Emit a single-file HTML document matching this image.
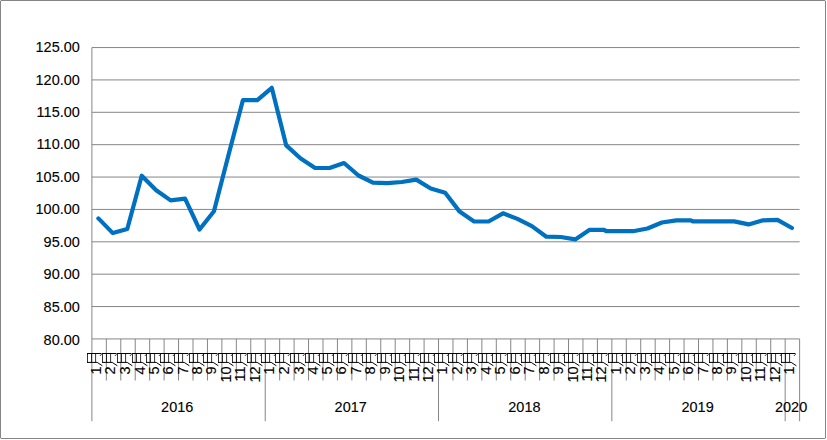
<!DOCTYPE html>
<html><head><meta charset="utf-8"><title>chart</title>
<style>
html,body{margin:0;padding:0;background:#fff;}
body{width:827px;height:440px;overflow:hidden;font-family:"Liberation Sans",sans-serif;}
svg{display:block;}
text{font-family:"Liberation Sans",sans-serif;fill:#000;stroke:#000;stroke-width:0.12px;}
</style></head><body>
<svg width="827" height="440" viewBox="0 0 827 440">
<rect x="0" y="0" width="827" height="440" fill="#fff"/>
<path d="M0.8 0.5H825.2M0.5 0.8V438.2M825.5 0.8V438.2M0.8 438.5H825.2" fill="none" stroke="#858585" stroke-width="1"/>
<path d="M91.90 47.55H799.61M91.90 79.92H799.61M91.90 112.30H799.61M91.90 144.68H799.61M91.90 177.05H799.61M91.90 209.43H799.61M91.90 241.80H799.61M91.90 274.18H799.61M91.90 306.55H799.61M91.90 338.93H799.61M91.90 47.55V338.93M91.90 338.93V421.20M106.34 338.93V380.50M120.79 338.93V380.50M135.23 338.93V380.50M149.67 338.93V380.50M164.12 338.93V380.50M178.56 338.93V380.50M193.00 338.93V380.50M207.44 338.93V380.50M221.89 338.93V380.50M236.33 338.93V380.50M250.77 338.93V380.50M265.22 338.93V421.20M279.66 338.93V380.50M294.10 338.93V380.50M308.54 338.93V380.50M322.99 338.93V380.50M337.43 338.93V380.50M351.87 338.93V380.50M366.32 338.93V380.50M380.76 338.93V380.50M395.20 338.93V380.50M409.65 338.93V380.50M424.09 338.93V380.50M438.53 338.93V421.20M452.98 338.93V380.50M467.42 338.93V380.50M481.86 338.93V380.50M496.30 338.93V380.50M510.75 338.93V380.50M525.19 338.93V380.50M539.63 338.93V380.50M554.08 338.93V380.50M568.52 338.93V380.50M582.96 338.93V380.50M597.40 338.93V380.50M611.85 338.93V421.20M626.29 338.93V380.50M640.73 338.93V380.50M655.18 338.93V380.50M669.62 338.93V380.50M684.06 338.93V380.50M698.51 338.93V380.50M712.95 338.93V380.50M727.39 338.93V380.50M741.83 338.93V380.50M756.28 338.93V380.50M770.72 338.93V380.50M785.16 338.93V421.20M799.61 338.93V421.20" fill="none" stroke="#868686" stroke-width="1"/>
<text transform="translate(79.80 52.40) scale(0.940 1)" font-size="15.40" text-anchor="end">125.00</text>
<text transform="translate(79.80 85.00) scale(0.940 1)" font-size="15.40" text-anchor="end">120.00</text>
<text transform="translate(79.80 116.75) scale(0.940 1)" font-size="15.40" text-anchor="end">115.00</text>
<text transform="translate(79.80 148.90) scale(0.940 1)" font-size="15.40" text-anchor="end">110.00</text>
<text transform="translate(79.80 181.50) scale(0.940 1)" font-size="15.40" text-anchor="end">105.00</text>
<text transform="translate(79.80 213.90) scale(0.940 1)" font-size="15.40" text-anchor="end">100.00</text>
<text transform="translate(79.80 247.00) scale(0.940 1)" font-size="15.40" text-anchor="end">95.00</text>
<text transform="translate(79.80 278.90) scale(0.940 1)" font-size="15.40" text-anchor="end">90.00</text>
<text transform="translate(79.80 311.75) scale(0.940 1)" font-size="15.40" text-anchor="end">85.00</text>
<text transform="translate(79.80 344.90) scale(0.940 1)" font-size="15.40" text-anchor="end">80.00</text>
<path d="M98.38 218.40 L112.83 233.10 L127.28 229.00 L141.72 175.70 L156.18 190.20 L170.62 200.40 L185.07 198.70 L199.53 229.50 L213.97 211.30 L228.43 155.20 L242.88 100.20 L257.32 100.20 L271.77 87.80 L286.23 145.40 L300.67 158.50 L315.12 168.00 L329.57 168.00 L344.02 163.00 L358.48 175.50 L372.92 182.60 L387.38 183.20 L401.83 182.00 L416.27 179.60 L430.73 188.50 L445.17 192.80 L459.62 211.60 L474.07 221.50 L488.52 221.50 L502.98 213.30 L517.42 218.90 L531.88 226.10 L546.32 236.70 L560.77 237.00 L575.23 239.40 L589.67 229.80 L604.12 229.90 L606.12 231.10 L618.57 231.10 L633.02 231.20 L647.47 228.50 L661.92 222.50 L676.38 220.30 L690.82 220.30 L692.82 221.40 L705.27 221.40 L719.72 221.30 L734.17 221.40 L748.62 224.40 L763.07 220.30 L777.52 219.80 L791.97 228.00" fill="none" stroke="#0070c0" stroke-width="4.2" stroke-linejoin="round" stroke-linecap="round"/>
<path d="M87.00 353.5H101.50M87.00 362.4H97.20L102.40 365.8M101.50 354.3L100.00 355.8M102.00 353.5H116.50M102.00 362.4H112.20L117.40 365.8M116.50 354.3L115.00 355.8M117.00 353.5H131.50M117.00 362.4H127.20L132.40 365.8M131.50 354.3L130.00 355.8M132.00 353.5H146.50M132.00 362.4H142.20L147.40 365.8M146.50 354.3L145.00 355.8M146.00 353.5H160.50M146.00 362.4H156.20L161.40 365.8M160.50 354.3L159.00 355.8M160.00 353.5H174.50M160.00 362.4H170.20L175.40 365.8M174.50 354.3L173.00 355.8M174.00 353.5H188.50M174.00 362.4H184.20L189.40 365.8M188.50 354.3L187.00 355.8M189.00 353.5H203.50M189.00 362.4H199.20L204.40 365.8M203.50 354.3L202.00 355.8M203.00 353.5H217.50M203.00 362.4H213.20L218.40 365.8M217.50 354.3L216.00 355.8M218.00 353.5H232.50M218.00 362.4H228.20L233.40 365.8M232.50 354.3L231.00 355.8M232.00 353.5H246.50M232.00 362.4H242.20L247.40 365.8M246.50 354.3L245.00 355.8M247.00 353.5H261.50M247.00 362.4H257.20L262.40 365.8M261.50 354.3L260.00 355.8M261.00 353.5H275.50M261.00 362.4H271.20L276.40 365.8M275.50 354.3L274.00 355.8M275.00 353.5H289.50M275.00 362.4H285.20L290.40 365.8M289.50 354.3L288.00 355.8M290.00 353.5H304.50M290.00 362.4H300.20L305.40 365.8M304.50 354.3L303.00 355.8M305.00 353.5H319.50M305.00 362.4H315.20L320.40 365.8M319.50 354.3L318.00 355.8M319.00 353.5H333.50M319.00 362.4H329.20L334.40 365.8M333.50 354.3L332.00 355.8M333.00 353.5H347.50M333.00 362.4H343.20L348.40 365.8M347.50 354.3L346.00 355.8M348.00 353.5H362.50M348.00 362.4H358.20L363.40 365.8M362.50 354.3L361.00 355.8M362.00 353.5H376.50M362.00 362.4H372.20L377.40 365.8M376.50 354.3L375.00 355.8M377.00 353.5H391.50M377.00 362.4H387.20L392.40 365.8M391.50 354.3L390.00 355.8M391.00 353.5H405.50M391.00 362.4H401.20L406.40 365.8M405.50 354.3L404.00 355.8M405.00 353.5H419.50M405.00 362.4H415.20L420.40 365.8M419.50 354.3L418.00 355.8M420.00 353.5H434.50M420.00 362.4H430.20L435.40 365.8M434.50 354.3L433.00 355.8M434.00 353.5H448.50M434.00 362.4H444.20L449.40 365.8M448.50 354.3L447.00 355.8M448.00 353.5H462.50M448.00 362.4H458.20L463.40 365.8M462.50 354.3L461.00 355.8M463.00 353.5H477.50M463.00 362.4H473.20L478.40 365.8M477.50 354.3L476.00 355.8M478.00 353.5H492.50M478.00 362.4H488.20L493.40 365.8M492.50 354.3L491.00 355.8M492.00 353.5H506.50M492.00 362.4H502.20L507.40 365.8M506.50 354.3L505.00 355.8M507.00 353.5H521.50M507.00 362.4H517.20L522.40 365.8M521.50 354.3L520.00 355.8M521.00 353.5H535.50M521.00 362.4H531.20L536.40 365.8M535.50 354.3L534.00 355.8M535.00 353.5H549.50M535.00 362.4H545.20L550.40 365.8M549.50 354.3L548.00 355.8M550.00 353.5H564.50M550.00 362.4H560.20L565.40 365.8M564.50 354.3L563.00 355.8M564.00 353.5H578.50M564.00 362.4H574.20L579.40 365.8M578.50 354.3L577.00 355.8M579.00 353.5H593.50M579.00 362.4H589.20L594.40 365.8M593.50 354.3L592.00 355.8M593.00 353.5H607.50M593.00 362.4H603.20L608.40 365.8M607.50 354.3L606.00 355.8M608.00 353.5H622.50M608.00 362.4H618.20L623.40 365.8M622.50 354.3L621.00 355.8M622.00 353.5H636.50M622.00 362.4H632.20L637.40 365.8M636.50 354.3L635.00 355.8M637.00 353.5H651.50M637.00 362.4H647.20L652.40 365.8M651.50 354.3L650.00 355.8M651.00 353.5H665.50M651.00 362.4H661.20L666.40 365.8M665.50 354.3L664.00 355.8M665.00 353.5H679.50M665.00 362.4H675.20L680.40 365.8M679.50 354.3L678.00 355.8M680.00 353.5H694.50M680.00 362.4H690.20L695.40 365.8M694.50 354.3L693.00 355.8M694.00 353.5H708.50M694.00 362.4H704.20L709.40 365.8M708.50 354.3L707.00 355.8M709.00 353.5H723.50M709.00 362.4H719.20L724.40 365.8M723.50 354.3L722.00 355.8M723.00 353.5H737.50M723.00 362.4H733.20L738.40 365.8M737.50 354.3L736.00 355.8M738.00 353.5H752.50M738.00 362.4H748.20L753.40 365.8M752.50 354.3L751.00 355.8M752.00 353.5H766.50M752.00 362.4H762.20L767.40 365.8M766.50 354.3L765.00 355.8M767.00 353.5H781.50M767.00 362.4H777.20L782.40 365.8M781.50 354.3L780.00 355.8M781.00 353.5H795.50M781.00 362.4H791.20L796.40 365.8M795.50 354.3L794.00 355.8" fill="none" stroke="#000" stroke-width="1"/>
<path d="M87.50 353.0V362.9M91.50 353.5V362.4M95.60 353.5V362.4M102.50 353.0V362.9M106.50 353.5V362.4M110.60 353.5V362.4M117.50 353.0V362.9M121.50 353.5V362.4M125.60 353.5V362.4M132.50 353.0V362.9M136.50 353.5V362.4M140.60 353.5V362.4M146.50 353.0V362.9M150.50 353.5V362.4M154.60 353.5V362.4M160.50 353.0V362.9M164.50 353.5V362.4M168.60 353.5V362.4M174.50 353.0V362.9M178.50 353.5V362.4M182.60 353.5V362.4M189.50 353.0V362.9M193.50 353.5V362.4M197.60 353.5V362.4M203.50 353.0V362.9M207.50 353.5V362.4M211.60 353.5V362.4M218.50 353.0V362.9M222.50 353.5V362.4M226.60 353.5V362.4M232.50 353.0V362.9M236.50 353.5V362.4M240.60 353.5V362.4M247.50 353.0V362.9M251.50 353.5V362.4M255.60 353.5V362.4M261.50 353.0V362.9M265.50 353.5V362.4M269.60 353.5V362.4M275.50 353.0V362.9M279.50 353.5V362.4M283.60 353.5V362.4M290.50 353.0V362.9M294.50 353.5V362.4M298.60 353.5V362.4M305.50 353.0V362.9M309.50 353.5V362.4M313.60 353.5V362.4M319.50 353.0V362.9M323.50 353.5V362.4M327.60 353.5V362.4M333.50 353.0V362.9M337.50 353.5V362.4M341.60 353.5V362.4M348.50 353.0V362.9M352.50 353.5V362.4M356.60 353.5V362.4M362.50 353.0V362.9M366.50 353.5V362.4M370.60 353.5V362.4M377.50 353.0V362.9M381.50 353.5V362.4M385.60 353.5V362.4M391.50 353.0V362.9M395.50 353.5V362.4M399.60 353.5V362.4M405.50 353.0V362.9M409.50 353.5V362.4M413.60 353.5V362.4M420.50 353.0V362.9M424.50 353.5V362.4M428.60 353.5V362.4M434.50 353.0V362.9M438.50 353.5V362.4M442.60 353.5V362.4M448.50 353.0V362.9M452.50 353.5V362.4M456.60 353.5V362.4M463.50 353.0V362.9M467.50 353.5V362.4M471.60 353.5V362.4M478.50 353.0V362.9M482.50 353.5V362.4M486.60 353.5V362.4M492.50 353.0V362.9M496.50 353.5V362.4M500.60 353.5V362.4M507.50 353.0V362.9M511.50 353.5V362.4M515.60 353.5V362.4M521.50 353.0V362.9M525.50 353.5V362.4M529.60 353.5V362.4M535.50 353.0V362.9M539.50 353.5V362.4M543.60 353.5V362.4M550.50 353.0V362.9M554.50 353.5V362.4M558.60 353.5V362.4M564.50 353.0V362.9M568.50 353.5V362.4M572.60 353.5V362.4M579.50 353.0V362.9M583.50 353.5V362.4M587.60 353.5V362.4M593.50 353.0V362.9M597.50 353.5V362.4M601.60 353.5V362.4M608.50 353.0V362.9M612.50 353.5V362.4M616.60 353.5V362.4M622.50 353.0V362.9M626.50 353.5V362.4M630.60 353.5V362.4M637.50 353.0V362.9M641.50 353.5V362.4M645.60 353.5V362.4M651.50 353.0V362.9M655.50 353.5V362.4M659.60 353.5V362.4M665.50 353.0V362.9M669.50 353.5V362.4M673.60 353.5V362.4M680.50 353.0V362.9M684.50 353.5V362.4M688.60 353.5V362.4M694.50 353.0V362.9M698.50 353.5V362.4M702.60 353.5V362.4M709.50 353.0V362.9M713.50 353.5V362.4M717.60 353.5V362.4M723.50 353.0V362.9M727.50 353.5V362.4M731.60 353.5V362.4M738.50 353.0V362.9M742.50 353.5V362.4M746.60 353.5V362.4M752.50 353.0V362.9M756.50 353.5V362.4M760.60 353.5V362.4M767.50 353.0V362.9M771.50 353.5V362.4M775.60 353.5V362.4M781.50 353.0V362.9M785.50 353.5V362.4M789.60 353.5V362.4" fill="none" stroke="#000" stroke-width="0.8"/>
<text transform="translate(100.90 366.40) rotate(-90) scale(0.940 1)" font-size="15.40" text-anchor="end">1</text>
<text transform="translate(115.20 366.40) rotate(-90) scale(0.940 1)" font-size="15.40" text-anchor="end">2</text>
<text transform="translate(130.30 366.40) rotate(-90) scale(0.940 1)" font-size="15.40" text-anchor="end">3</text>
<text transform="translate(145.05 366.40) rotate(-90) scale(0.940 1)" font-size="15.40" text-anchor="end">4</text>
<text transform="translate(159.05 366.40) rotate(-90) scale(0.940 1)" font-size="15.40" text-anchor="end">5</text>
<text transform="translate(173.45 366.40) rotate(-90) scale(0.940 1)" font-size="15.40" text-anchor="end">6</text>
<text transform="translate(187.61 366.40) rotate(-90) scale(0.940 1)" font-size="15.40" text-anchor="end">7</text>
<text transform="translate(202.05 366.40) rotate(-90) scale(0.940 1)" font-size="15.40" text-anchor="end">8</text>
<text transform="translate(216.49 366.40) rotate(-90) scale(0.940 1)" font-size="15.40" text-anchor="end">9</text>
<text transform="translate(230.94 366.40) rotate(-90) scale(0.940 1)" font-size="15.40" text-anchor="end">10</text>
<text transform="translate(245.38 366.40) rotate(-90) scale(0.940 1)" font-size="15.40" text-anchor="end">11</text>
<text transform="translate(259.82 366.40) rotate(-90) scale(0.940 1)" font-size="15.40" text-anchor="end">12</text>
<text transform="translate(274.27 366.40) rotate(-90) scale(0.940 1)" font-size="15.40" text-anchor="end">1</text>
<text transform="translate(288.71 366.40) rotate(-90) scale(0.940 1)" font-size="15.40" text-anchor="end">2</text>
<text transform="translate(303.55 366.40) rotate(-90) scale(0.940 1)" font-size="15.40" text-anchor="end">3</text>
<text transform="translate(318.05 366.40) rotate(-90) scale(0.940 1)" font-size="15.40" text-anchor="end">4</text>
<text transform="translate(332.45 366.40) rotate(-90) scale(0.940 1)" font-size="15.40" text-anchor="end">5</text>
<text transform="translate(346.48 366.40) rotate(-90) scale(0.940 1)" font-size="15.40" text-anchor="end">6</text>
<text transform="translate(360.92 366.40) rotate(-90) scale(0.940 1)" font-size="15.40" text-anchor="end">7</text>
<text transform="translate(375.37 366.40) rotate(-90) scale(0.940 1)" font-size="15.40" text-anchor="end">8</text>
<text transform="translate(389.81 366.40) rotate(-90) scale(0.940 1)" font-size="15.40" text-anchor="end">9</text>
<text transform="translate(404.25 366.40) rotate(-90) scale(0.940 1)" font-size="15.40" text-anchor="end">10</text>
<text transform="translate(418.70 366.40) rotate(-90) scale(0.940 1)" font-size="15.40" text-anchor="end">11</text>
<text transform="translate(433.14 366.40) rotate(-90) scale(0.940 1)" font-size="15.40" text-anchor="end">12</text>
<text transform="translate(447.35 366.40) rotate(-90) scale(0.940 1)" font-size="15.40" text-anchor="end">1</text>
<text transform="translate(461.70 366.40) rotate(-90) scale(0.940 1)" font-size="15.40" text-anchor="end">2</text>
<text transform="translate(476.47 366.40) rotate(-90) scale(0.940 1)" font-size="15.40" text-anchor="end">3</text>
<text transform="translate(490.91 366.40) rotate(-90) scale(0.940 1)" font-size="15.40" text-anchor="end">4</text>
<text transform="translate(505.35 366.40) rotate(-90) scale(0.940 1)" font-size="15.40" text-anchor="end">5</text>
<text transform="translate(519.80 366.40) rotate(-90) scale(0.940 1)" font-size="15.40" text-anchor="end">6</text>
<text transform="translate(534.24 366.40) rotate(-90) scale(0.940 1)" font-size="15.40" text-anchor="end">7</text>
<text transform="translate(548.68 366.40) rotate(-90) scale(0.940 1)" font-size="15.40" text-anchor="end">8</text>
<text transform="translate(563.13 366.40) rotate(-90) scale(0.940 1)" font-size="15.40" text-anchor="end">9</text>
<text transform="translate(577.57 366.40) rotate(-90) scale(0.940 1)" font-size="15.40" text-anchor="end">10</text>
<text transform="translate(592.01 366.40) rotate(-90) scale(0.940 1)" font-size="15.40" text-anchor="end">11</text>
<text transform="translate(606.46 366.40) rotate(-90) scale(0.940 1)" font-size="15.40" text-anchor="end">12</text>
<text transform="translate(620.90 366.40) rotate(-90) scale(0.940 1)" font-size="15.40" text-anchor="end">1</text>
<text transform="translate(635.34 366.40) rotate(-90) scale(0.940 1)" font-size="15.40" text-anchor="end">2</text>
<text transform="translate(649.78 366.40) rotate(-90) scale(0.940 1)" font-size="15.40" text-anchor="end">3</text>
<text transform="translate(664.23 366.40) rotate(-90) scale(0.940 1)" font-size="15.40" text-anchor="end">4</text>
<text transform="translate(678.67 366.40) rotate(-90) scale(0.940 1)" font-size="15.40" text-anchor="end">5</text>
<text transform="translate(693.11 366.40) rotate(-90) scale(0.940 1)" font-size="15.40" text-anchor="end">6</text>
<text transform="translate(707.56 366.40) rotate(-90) scale(0.940 1)" font-size="15.40" text-anchor="end">7</text>
<text transform="translate(722.00 366.40) rotate(-90) scale(0.940 1)" font-size="15.40" text-anchor="end">8</text>
<text transform="translate(736.44 366.40) rotate(-90) scale(0.940 1)" font-size="15.40" text-anchor="end">9</text>
<text transform="translate(750.88 366.40) rotate(-90) scale(0.940 1)" font-size="15.40" text-anchor="end">10</text>
<text transform="translate(765.33 366.40) rotate(-90) scale(0.940 1)" font-size="15.40" text-anchor="end">11</text>
<text transform="translate(779.77 366.40) rotate(-90) scale(0.940 1)" font-size="15.40" text-anchor="end">12</text>
<text transform="translate(794.35 366.40) rotate(-90) scale(0.940 1)" font-size="15.40" text-anchor="end">1</text>
<text transform="translate(177.20 412.20) scale(0.940 1)" font-size="15.40" text-anchor="middle">2016</text>
<text transform="translate(350.70 412.20) scale(0.940 1)" font-size="15.40" text-anchor="middle">2017</text>
<text transform="translate(524.40 412.20) scale(0.940 1)" font-size="15.40" text-anchor="middle">2018</text>
<text transform="translate(697.60 412.20) scale(0.940 1)" font-size="15.40" text-anchor="middle">2019</text>
<text transform="translate(791.10 412.20) scale(0.940 1)" font-size="15.40" text-anchor="middle">2020</text>
</svg>
</body></html>
